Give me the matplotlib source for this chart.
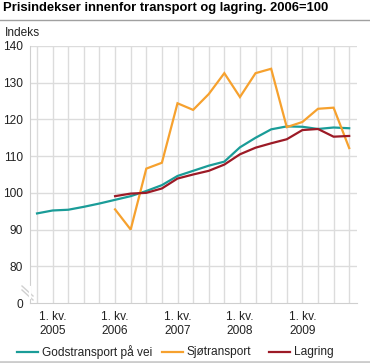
import numpy as np
import matplotlib
matplotlib.use("Agg")
import matplotlib.pyplot as plt
from matplotlib.lines import Line2D

# Quarters 2004 Q4 .. 2009 Q4
quarters = ["2004K4",
            "2005K1", "2005K2", "2005K3", "2005K4",
            "2006K1", "2006K2", "2006K3", "2006K4",
            "2007K1", "2007K2", "2007K3", "2007K4",
            "2008K1", "2008K2", "2008K3", "2008K4",
            "2009K1", "2009K2", "2009K3", "2009K4"]

godstransport = [94.4, 95.2, 95.4, 96.2, 97.1,
                 98.1, 99.1, 100.5, 102.1,
                 104.6, 106.0, 107.4, 108.5,
                 112.4, 115.0, 117.3, 118.1,
                 118.0, 117.4, 117.8, 117.6]

sjotransport = [None, None, None, None, None,
                95.5, 90.0, 106.6, 108.2,
                124.4, 122.6, 126.9, 132.6,
                126.1, 132.6, 133.8, 117.9,
                119.3, 122.9, 123.2, 112.2]

lagring = [None, None, None, None, None,
           99.1, 99.8, 100.0, 101.2,
           103.9, 105.0, 106.0, 107.7,
           110.5, 112.3, 113.5, 114.6,
           117.1, 117.4, 115.3, 115.5]

series_names = ["Godstransport på vei", "Sjøtransport", "Lagring"]
series_colors = ["#1a9c98", "#f6a12e", "#9c1a26"]

xtick_pos = [1, 5, 9, 13, 17]
xtick_labels = ["1. kv.\n2005", "1. kv.\n2006", "1. kv.\n2007",
                "1. kv.\n2008", "1. kv.\n2009"]
ytick_vals = [70, 80, 90, 100, 110, 120, 130, 140]
ytick_labels = ["0", "80", "90", "100", "110", "120", "130", "140"]

plt.rcParams["font.family"] = ["Liberation Sans", "DejaVu Sans"]

W, H = 370, 363
fig = plt.figure(figsize=(W / 100, H / 100), dpi=100)


def fx(px):
    return px / W


def fy(py):
    return 1 - py / H


ax = fig.add_axes([fx(30), fy(303), fx(357) - fx(30), fy(46) - fy(303)])

x = np.arange(len(quarters))
for vals, name, col in zip([godstransport, sjotransport, lagring],
                           series_names, series_colors):
    y = np.array([np.nan if v is None else v for v in vals], dtype=float)
    ax.plot(x, y, color=col, lw=1.6, label=name, zorder=3,
            solid_joinstyle="miter")

ax.set_xlim(-0.45, 20.5)
ax.set_ylim(70, 140)

# grid
for xi in x:
    ax.axvline(xi, color="#dcdcdc", lw=1, zorder=1)
for yv in ytick_vals[1:]:
    ax.axhline(yv, color="#dcdcdc", lw=1, zorder=1)

ax.set_xticks(xtick_pos)
ax.set_xticklabels(xtick_labels, fontsize=8.6, color="#222222",
                   linespacing=1.15)
ax.set_yticks(ytick_vals)
ax.set_yticklabels(ytick_labels, fontsize=8.6, color="#222222")
ax.tick_params(length=0)
ax.tick_params(axis="y", pad=5)
ax.tick_params(axis="x", pad=6)

for side in ["top", "right"]:
    ax.spines[side].set_visible(False)
ax.spines["left"].set_color("#cfcfcf")
ax.spines["bottom"].set_color("#cfcfcf")

# axis break marks
for dy in (0, 4):
    fig.add_artist(Line2D([fx(22), fx(33)], [fy(286 + dy), fy(296 + dy)],
                          color="#d0d0d0", lw=1))
fig.add_artist(Line2D([fx(30), fx(30)], [fy(287), fy(298)],
                      color="white", lw=1.6))

# title and header
fig.text(fx(3), fy(2), "Prisindekser innenfor transport og lagring. 2006=100",
         fontsize=9.4, fontweight="bold", va="top", ha="left")
fig.add_artist(Line2D([0, 1], [fy(19.5), fy(19.5)], color="#a0a0a0", lw=1))
fig.text(fx(5), fy(27), "Indeks", fontsize=8.6, va="top", ha="left",
         color="#222222")

# legend
leg_y = 352
handle_x = [17, 162, 269]
for hx, name, col in zip(handle_x, series_names, series_colors):
    fig.add_artist(Line2D([fx(hx), fx(hx + 21)], [fy(leg_y), fy(leg_y)],
                          color=col, lw=1.6))
    fig.text(fx(hx + 25), fy(leg_y), name, fontsize=8.6, va="center",
             ha="left", color="#222222")

fig.add_artist(Line2D([0, 1], [fy(362), fy(362)], color="#cccccc", lw=2))

fig.savefig("out.png", dpi=100)
plt.close(fig)
